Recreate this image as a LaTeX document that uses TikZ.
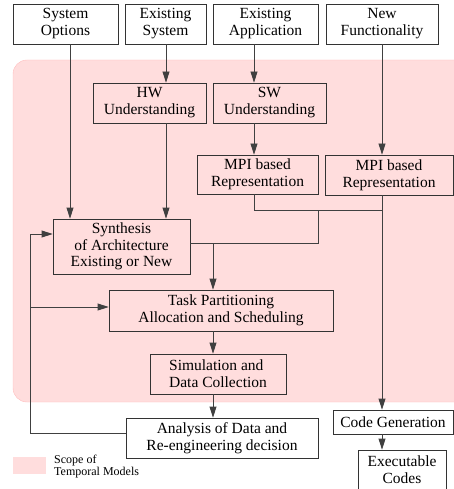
\documentclass[tikz,border=0pt]{standalone}
\usepackage{fontspec}
\setmainfont{Liberation Serif}
\usetikzlibrary{arrows.meta}
\definecolor{scopepink}{RGB}{255,221,221}
\definecolor{scopeedge}{RGB}{255,188,188}
\newcommand{\boxfont}{\fontsize{15.5}{17}\selectfont}
\newcommand{\legfont}{\fontsize{12}{9}\selectfont}
\tikzset{
 stage/.style={draw=black!80, line width=0.8pt, inner sep=0pt, align=center, font=\boxfont, minimum height=40pt},
 flow/.style={draw=black!75, line width=0.8pt},
 arr/.style={flow, -{Triangle[length=11pt,width=7pt]}},
}

\begin{document}
\begin{tikzpicture}[x=1pt,y=-1pt]
 \useasboundingbox (0,0) rectangle (454,489);
 % scope of temporal models
 \draw[scopeedge, fill=scopepink, rounded corners=14pt] (13,60) rectangle (490,402);

 % inputs
 \node[stage, minimum width=105pt] (sysopt) at (65.5,24) {System\\Options};
 \node[stage, minimum width=81pt] (exsys) at (165.5,24) {Existing\\System};
 \node[stage, minimum width=105pt] (exapp) at (265.5,24) {Existing\\Application};
 \node[stage, minimum width=112pt] (newfun) at (382,24) {New\\Functionality};

 % inside the scope
 \node[stage, minimum width=113pt] (hw) at (149.5,103) {HW\\Understanding};
 \node[stage, minimum width=113pt] (sw) at (269.5,103) {SW\\Understanding};
 \node[stage, minimum width=121pt, minimum height=39pt] (mpiA) at (257.5,174.5) {MPI based\\Representation};
 \node[stage, minimum width=128pt] (mpiB) at (389,175) {MPI based\\Representation};
 \node[stage, minimum width=137pt, minimum height=55pt] (synth) at (121.5,246.5) {Synthesis\\of Architecture\\[-1pt]Existing or New};
 \node[stage, minimum width=224pt, minimum height=41pt] (task) at (221,310.5) {Task Partitioning\\Allocation and Scheduling};
 \node[stage, minimum width=136pt, align=left] (sim) at (218,374) {Simulation and\\Data Collection};

 % outside
 \node[stage, minimum width=192pt] (anal) at (222,438) {Analysis of Data and\\Re-engineering decision};
 \node[stage, minimum width=120pt, minimum height=24pt] (codegen) at (393,422) {Code Generation};
 \node[stage, minimum width=88pt] (exec) at (402,470) {Executable\\Codes};

 % legend
 \node[fill=scopepink, minimum width=33pt, minimum height=17pt, inner sep=0pt] (legbox) at (29.5,465.5) {};
 \node[anchor=base west, font=\legfont, inner sep=0pt] (legA) at (54,463) {Scope of};
 \node[anchor=base west, font=\legfont, inner sep=0pt] (legB) at (54,475) {Temporal Models};

 % columns and bends
 \coordinate (colA) at (70,0);
 \coordinate (colB) at (166,0);
 \coordinate (colC) at (254,0);
 \coordinate (colD) at (382,0);
 \coordinate (colE) at (213,0);
 \coordinate (merge) at (382,210);
 \coordinate (split) at (318,210);
 \coordinate (feed) at (318,243);
 \coordinate (loopTop) at (30,234);
 \coordinate (loopMid) at (30,307);
 \coordinate (loopBot) at (30,433);

 \draw[arr] (colA |- sysopt.south) -- (colA |- synth.north);
 \draw[arr] (colB |- exsys.south) -- (colB |- hw.north);
 \draw[arr] (colB |- hw.south) -- (colB |- synth.north);
 \draw[arr] (colC |- exapp.south) -- (colC |- sw.north);
 \draw[arr] (colC |- sw.south) -- (colC |- mpiA.north);
 \draw[arr] (colD |- newfun.south) -- (colD |- mpiB.north);
 \draw[arr] (colD |- mpiB.south) -- (colD |- codegen.north);
 \draw[arr] (colD |- codegen.south) -- (colD |- exec.north);

 \draw[flow] (colC |- mpiA.south) |- (merge);
 \draw[flow] (split) -- (feed) -- (feed -| synth.east);
 \draw[arr] (colE |- feed) -- (colE |- task.north);
 \draw[arr] (colE |- task.south) -- (colE |- sim.north);
 \draw[arr] (colE |- sim.south) -- (colE |- anal.north);

 % feedback
 \draw[flow] (loopBot -| anal.west) -- (loopBot) -- (loopTop);
 \draw[arr] (loopTop) -- (loopTop -| synth.west);
 \draw[arr] (loopMid) -- (loopMid -| task.west);
\end{tikzpicture}
\end{document}
